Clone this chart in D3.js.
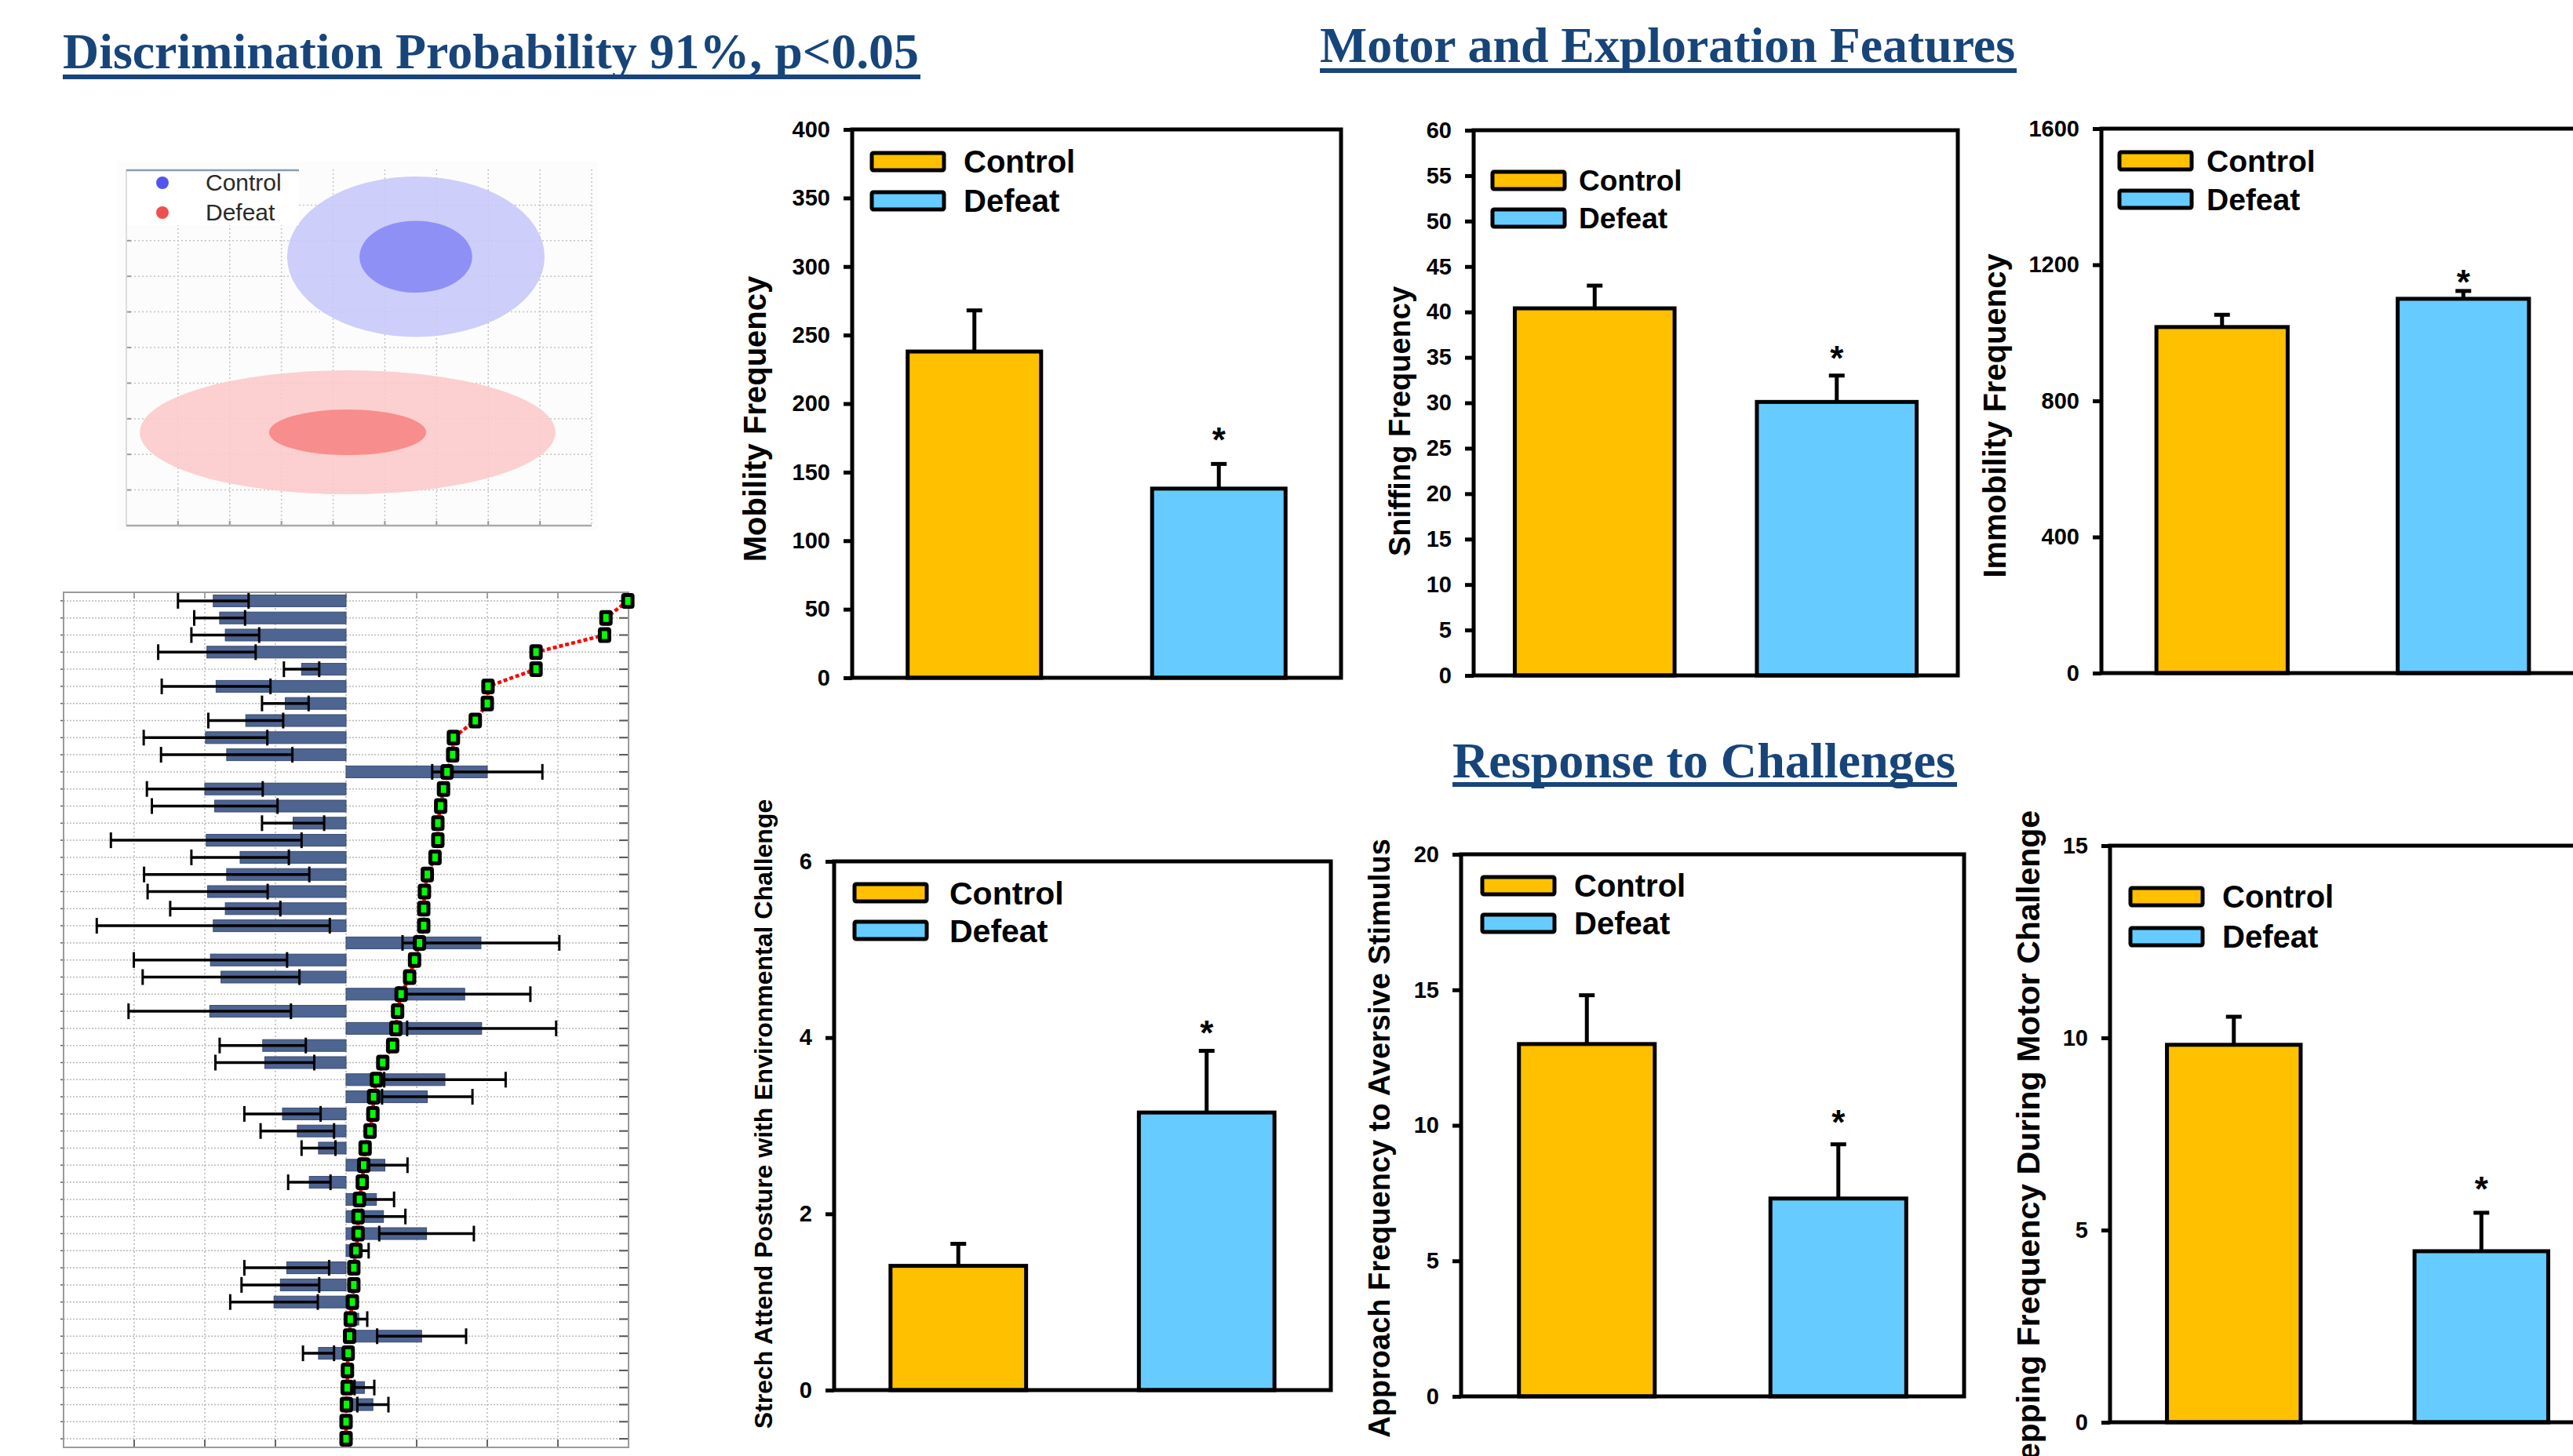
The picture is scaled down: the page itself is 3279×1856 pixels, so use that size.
<!DOCTYPE html>
<html>
<head>
<meta charset="utf-8">
<script src="https://cdn.jsdelivr.net/npm/d3@7"></script>
<style>
  body { margin: 0; background: #fff; }
  svg { display: block; }
  text { font-family: Arial, "Liberation Sans", sans-serif; }
</style>
</head>
<body>
<div id="fig"></div>
<script>
// ---------------- data ----------------
const groups = ["Control", "Defeat"];
const groupColors = ["#ffc000", "#66ccff"];
const sigGroup = "Defeat";   // group marked with *

const mobilityMean = [238, 138];
const mobilitySem = [30, 18];
const sniffMean = [40.4, 30.1];
const sniffSem = [2.5, 2.9];
const immobMean = [1017, 1100];
const immobSem = [36, 23];
const stretchMean = [1.41, 3.15];
const stretchSem = [0.25, 0.70];
const approachMean = [13.0, 7.3];
const approachSem = [1.8, 2.0];
const steppingMean = [9.82, 4.45];
const steppingSem = [0.73, 1.0];

// discriminant score ellipses, in units of the 9 x 10 grid
const ellipseCx = [5.60, 4.28];
const ellipseCy = [7.55, 2.62];
const outerRx = [2.49, 4.02];
const outerRy = [2.25, 1.74];
const innerRx = [1.09, 1.52];
const innerRy = [1.01, 0.64];

// feature weights, rows top to bottom
const weightVals = [
  -1.88, -1.79, -1.71, -1.97, -0.63, -1.84, -0.86, -1.42, -1.99, -1.69,
   2.00, -2.00, -1.86, -0.75, -1.98, -1.50, -1.69, -1.96, -1.71, -1.88,
   1.91, -1.92, -1.77, 1.68, -1.93,
   1.92, -1.18, -1.15, 1.40, 1.15, -0.90, -0.69, -0.39, 0.55, -0.52,
   0.43, 0.53, 1.14, 0.22, -0.84, -0.93, -1.02, 0.18, 1.07, -0.39,
   0, 0.26, 0.38, 0, 0];
const weightErr = [
  0.50, 0.36, 0.48, 0.69, 0.25, 0.77, 0.33, 0.53, 0.875, 0.93,
  0.78, 0.82, 0.89, 0.44, 1.35, 0.69, 1.17, 0.85, 0.78, 1.65,
  1.11, 1.085, 1.11, 0.93, 1.15,
  1.055, 0.61, 0.70, 0.86, 0.64, 0.54, 0.52, 0.24, 0.32, 0.30,
  0.25, 0.31, 0.67, 0.10, 0.60, 0.55, 0.62, 0.12, 0.63, 0.22,
  0, 0.14, 0.22, 0, 0];
const cumVals = [
  3.99, 3.68, 3.66, 2.69, 2.69, 2.01, 2.00, 1.83, 1.52, 1.51,
  1.43, 1.38, 1.34, 1.30, 1.30, 1.26, 1.15, 1.11, 1.10, 1.10,
  1.04, 0.97, 0.90, 0.78, 0.73,
  0.705, 0.66, 0.52, 0.43, 0.39, 0.38, 0.34, 0.27, 0.25, 0.23,
  0.19, 0.17, 0.17, 0.14, 0.11, 0.11, 0.09, 0.06, 0.05, 0.03,
  0.02, 0.016, 0.005, 0, 0];

const headings = ["Discrimination Probability 91%, p<0.05", "Motor and Exploration Features", "Response to Challenges"];

// ---------------- drawing ----------------
const W = 3279, H = 1856;
const svg = d3.select("#fig").append("svg").attr("width", W).attr("height", H);
svg.append("rect").attr("width", W).attr("height", H).attr("fill", "#fff");

const titleBlue = "#17457a";
const headPos = [
  {x: 80, y: 87, len: 1091, lineY: 95},
  {x: 1682, y: 79, len: 886, lineY: 87},
  {x: 1851, y: 991, len: 641, lineY: 997}
];
headings.forEach((t, i) => {
  const p = headPos[i];
  svg.append("text")
    .attr("x", p.x).attr("y", p.y)
    .attr("textLength", p.len).attr("lengthAdjust", "spacingAndGlyphs")
    .style("font-family", "'Times New Roman', 'Liberation Serif', serif")
    .style("font-weight", "bold").style("font-size", "64px")
    .attr("fill", titleBlue).text(t);
  svg.append("rect").attr("x", p.x).attr("y", p.lineY)
    .attr("width", p.len + 2).attr("height", 6).attr("fill", titleBlue);
});

// ---- ellipse plot ----
const sx = d3.scaleLinear().domain([0, 9]).range([161, 754]);
const sy = d3.scaleLinear().domain([0, 10]).range([670, 216]);
const sc = svg.append("g");
sc.append("rect").attr("x", 150).attr("y", 206).attr("width", 612).attr("height", 470).attr("fill", "#fcfcfc");
sc.selectAll(".vg").data(d3.range(1, 10)).join("line")
  .attr("x1", d => sx(d)).attr("x2", d => sx(d)).attr("y1", sy(10)).attr("y2", sy(0))
  .attr("stroke", "#c4c4c4").attr("stroke-width", 1.5).attr("stroke-dasharray", "2 3");
sc.selectAll(".hg").data(d3.range(1, 10)).join("line")
  .attr("x1", sx(0)).attr("x2", sx(9)).attr("y1", d => sy(d)).attr("y2", d => sy(d))
  .attr("stroke", "#c4c4c4").attr("stroke-width", 1.5).attr("stroke-dasharray", "2 3");
sc.selectAll(".hk").data(d3.range(1, 10)).join("line")
  .attr("x1", sx(0)).attr("x2", sx(0) + 6).attr("y1", d => sy(d)).attr("y2", d => sy(d))
  .attr("stroke", "#999").attr("stroke-width", 2);
sc.selectAll(".vk").data(d3.range(1, 9)).join("line")
  .attr("x1", d => sx(d)).attr("x2", d => sx(d)).attr("y1", sy(0)).attr("y2", sy(0) - 6)
  .attr("stroke", "#999").attr("stroke-width", 2);
sc.append("line").attr("x1", sx(0)).attr("x2", sx(0)).attr("y1", sy(10)).attr("y2", sy(0))
  .attr("stroke", "#ddd").attr("stroke-width", 2);
sc.append("line").attr("x1", sx(0)).attr("x2", sx(9)).attr("y1", sy(0)).attr("y2", sy(0))
  .attr("stroke", "#aaa").attr("stroke-width", 2.5);

const outerFill = ["#c6c7f8", "#fcc9c9"];
const innerFill = ["#8b8cf4", "#f78989"];
groups.forEach((g, i) => {
  sc.append("ellipse").attr("cx", sx(ellipseCx[i])).attr("cy", sy(ellipseCy[i]))
    .attr("rx", sx(outerRx[i]) - sx(0)).attr("ry", sy(0) - sy(outerRy[i]))
    .attr("fill", outerFill[i]).attr("fill-opacity", 0.88);
  sc.append("ellipse").attr("cx", sx(ellipseCx[i])).attr("cy", sy(ellipseCy[i]))
    .attr("rx", sx(innerRx[i]) - sx(0)).attr("ry", sy(0) - sy(innerRy[i]))
    .attr("fill", innerFill[i]).attr("fill-opacity", 0.95);
});
// legend
sc.append("rect").attr("x", 162).attr("y", 217).attr("width", 219).attr("height", 70).attr("fill", "#fff");
sc.append("line").attr("x1", 161).attr("x2", 381).attr("y1", 217).attr("y2", 217)
  .attr("stroke", "#8a9bb0").attr("stroke-width", 2.5);
const dotCol = ["#5454ee", "#ee5050"];
groups.forEach((g, i) => {
  sc.append("circle").attr("cx", 207).attr("cy", 233 + i * 38).attr("r", 8).attr("fill", dotCol[i]);
  sc.append("text").attr("x", 262).attr("y", 243 + i * 38)
    .style("font-size", "30px").attr("fill", "#2a2a2a").text(g);
});

// ---- feature weight chart ----
const wx = d3.scaleLinear().domain([-4, 4]).range([81, 801]);
const wy = d3.scalePoint().domain(d3.range(weightVals.length)).range([755, 1845]).padding(0.5);
const wg = svg.append("g");
wg.selectAll(".wv").data(d3.range(-3, 4)).join("line")
  .attr("x1", d => wx(d)).attr("x2", d => wx(d)).attr("y1", 755).attr("y2", 1845)
  .attr("stroke", "#b8b8b8").attr("stroke-width", 1.5).attr("stroke-dasharray", "2 3");
wg.selectAll(".wh").data(wy.domain()).join("line")
  .attr("x1", wx(-4)).attr("x2", wx(4)).attr("y1", d => wy(d)).attr("y2", d => wy(d))
  .attr("stroke", "#b8b8b8").attr("stroke-width", 1.5).attr("stroke-dasharray", "2 2");
wg.selectAll(".wr").data(wy.domain()).join("line")
  .attr("x1", wx(4) - 12).attr("x2", wx(4)).attr("y1", d => wy(d)).attr("y2", d => wy(d))
  .attr("stroke", "#555").attr("stroke-width", 2);
wg.selectAll(".wl").data(wy.domain()).join("line")
  .attr("x1", wx(-4) - 4).attr("x2", wx(-4)).attr("y1", d => wy(d)).attr("y2", d => wy(d))
  .attr("stroke", "#666").attr("stroke-width", 1.5);
wg.selectAll(".wb").data(d3.range(-3, 4)).join("line")
  .attr("x1", d => wx(d)).attr("x2", d => wx(d)).attr("y1", 1845).attr("y2", 1835)
  .attr("stroke", "#666").attr("stroke-width", 2);
wg.selectAll(".wt").data(d3.range(-3, 4)).join("line")
  .attr("x1", d => wx(d)).attr("x2", d => wx(d)).attr("y1", 755).attr("y2", 763)
  .attr("stroke", "#888").attr("stroke-width", 1.5);
wg.append("rect").attr("x", wx(-4)).attr("y", 755).attr("width", wx(4) - wx(-4)).attr("height", 1090)
  .attr("fill", "none").attr("stroke", "#9a9a9a").attr("stroke-width", 2);

wg.selectAll(".bar").data(weightVals).join("rect")
  .attr("x", d => wx(Math.min(0, d))).attr("y", (d, i) => wy(i) - 7.5)
  .attr("width", d => Math.abs(wx(d) - wx(0))).attr("height", 15)
  .attr("fill", "#4e6491").attr("stroke", "#3a4a6e").attr("stroke-width", 1);
weightVals.forEach((v, i) => {
  const e = weightErr[i];
  if (!e) return;
  const yy = wy(i);
  wg.append("line").attr("x1", wx(v - e)).attr("x2", wx(v + e)).attr("y1", yy).attr("y2", yy)
    .attr("stroke", "#000").attr("stroke-width", 3.5);
  [v - e, v + e].forEach(c => wg.append("line").attr("x1", wx(c)).attr("x2", wx(c))
    .attr("y1", yy - 10).attr("y2", yy + 10).attr("stroke", "#000").attr("stroke-width", 3));
});
const cumLine = d3.line().x(d => wx(d)).y((d, i) => wy(i));
wg.append("path").attr("d", cumLine(cumVals)).attr("fill", "none")
  .attr("stroke", "#ff0000").attr("stroke-width", 4.5).attr("stroke-dasharray", "5 3");
wg.selectAll(".mk").data(cumVals).join("rect")
  .attr("x", d => wx(d) - 6).attr("y", (d, i) => wy(i) - 7.5)
  .attr("width", 12).attr("height", 15).attr("rx", 1.5)
  .attr("fill", "#00ff00").attr("stroke", "#000").attr("stroke-width", 5);

// ---- bar panels ----
const panels = [
  {label: "Mobility Frequency", mean: mobilityMean, sem: mobilitySem, max: 400, step: 50,
   box: [1086, 165, 1709, 864], barFrac: 0.273, titleX: 965, titleY: 534, titleFs: 40,
   leg: {dx: 25, dy: 41, gap: 50, fs: 40, tx: 117}, starLift: 39},
  {label: "Sniffing Frequency", mean: sniffMean, sem: sniffSem, max: 60, step: 5,
   box: [1878, 166, 2495, 861], barFrac: 0.33, titleX: 1787, titleY: 537, titleFs: 38,
   leg: {dx: 24, dy: 64, gap: 48, fs: 37, tx: 110}, starLift: 31},
  {label: "Immobility Frequency", mean: immobMean, sem: immobSem, max: 1600, step: 400,
   box: [2678, 164, 3293, 858], barFrac: 0.272, titleX: 2545, titleY: 530, titleFs: 40,
   leg: {dx: 23, dy: 41, gap: 49, fs: 39, tx: 111}, starLift: 20},
  {label: "Strech Attend Posture with Environmental Challenge", mean: stretchMean, sem: stretchSem, max: 6, step: 2,
   box: [1063, 1098, 1696, 1772], barFrac: 0.273, titleX: 975, titleY: 1420, titleFs: 32,
   leg: {dx: 26, dy: 40, gap: 48, fs: 41, tx: 121}, starLift: 32},
  {label: "Approach Frequency to Aversive Stimulus", mean: approachMean, sem: approachSem, max: 20, step: 5,
   box: [1862, 1089, 2503, 1780], barFrac: 0.27, titleX: 1761, titleY: 1451, titleFs: 38,
   leg: {dx: 27, dy: 40, gap: 48, fs: 40, tx: 117}, starLift: 37},
  {label: "Stepping Frequency During Motor Challenge", mean: steppingMean, sem: steppingSem, max: 15, step: 5,
   box: [2689, 1078, 3320, 1813], barFrac: 0.27, titleX: 2588, titleY: 1468, titleFs: 41,
   leg: {dx: 26, dy: 65, gap: 51, fs: 40, tx: 117}, starLift: 39}
];

function drawPanel(p) {
  const [x0, y0, x1, y1] = p.box;
  const g = svg.append("g");
  const pin = 1 - 2 * p.barFrac;
  const x = d3.scaleBand().domain(groups).range([x0, x1]).paddingInner(pin).paddingOuter(pin / 2);
  const y = d3.scaleLinear().domain([0, p.max]).range([y1, y0]);
  const bw = x.bandwidth();

  groups.forEach((grp, i) => {
    const cx = x(grp) + bw / 2;
    const top = y(p.mean[i] + p.sem[i]);
    g.append("line").attr("x1", cx).attr("x2", cx).attr("y1", y(p.mean[i])).attr("y2", top)
      .attr("stroke", "#000").attr("stroke-width", 5);
    g.append("line").attr("x1", cx - 10).attr("x2", cx + 10).attr("y1", top).attr("y2", top)
      .attr("stroke", "#000").attr("stroke-width", 5);
    g.append("rect").attr("x", x(grp)).attr("y", y(p.mean[i]))
      .attr("width", bw).attr("height", y1 - y(p.mean[i]))
      .attr("fill", groupColors[i]).attr("stroke", "#000").attr("stroke-width", 5);
    if (grp === sigGroup) {
      g.append("text").attr("x", cx).attr("y", top - p.starLift + 24)
        .attr("text-anchor", "middle").style("font-size", "44px").style("font-weight", "bold")
        .text("*");
    }
  });

  g.append("rect").attr("x", x0).attr("y", y0).attr("width", x1 - x0).attr("height", y1 - y0)
    .attr("fill", "none").attr("stroke", "#000").attr("stroke-width", 5);

  const ax = g.append("g").attr("transform", `translate(${x0},0)`)
    .call(d3.axisLeft(y).tickValues(d3.range(0, p.max + p.step / 2, p.step))
      .tickFormat(d3.format("d")).tickSize(11).tickPadding(17));
  ax.select(".domain").remove();
  ax.selectAll(".tick line").attr("stroke", "#000").attr("stroke-width", 5);
  ax.selectAll(".tick text").attr("fill", "#000")
    .style("font-family", "Arial, 'Liberation Sans', sans-serif")
    .style("font-size", "29px").style("font-weight", "bold");

  g.append("text")
    .attr("transform", `translate(${p.titleX + 0.27 * p.titleFs},${p.titleY}) rotate(-90)`)
    .attr("text-anchor", "middle").style("font-size", p.titleFs + "px").style("font-weight", "bold")
    .text(p.label);

  const L = p.leg;
  groups.forEach((grp, i) => {
    const cy = y0 + L.dy + i * L.gap;
    g.append("rect").attr("x", x0 + L.dx).attr("y", cy - 11).attr("width", 92).attr("height", 22)
      .attr("fill", groupColors[i]).attr("stroke", "#000").attr("stroke-width", 5).attr("rx", 2);
    g.append("text").attr("x", x0 + L.dx + L.tx).attr("y", cy + 0.36 * L.fs)
      .style("font-size", L.fs + "px").style("font-weight", "bold").text(grp);
  });
}
panels.forEach(drawPanel);
</script>
</body>
</html>
